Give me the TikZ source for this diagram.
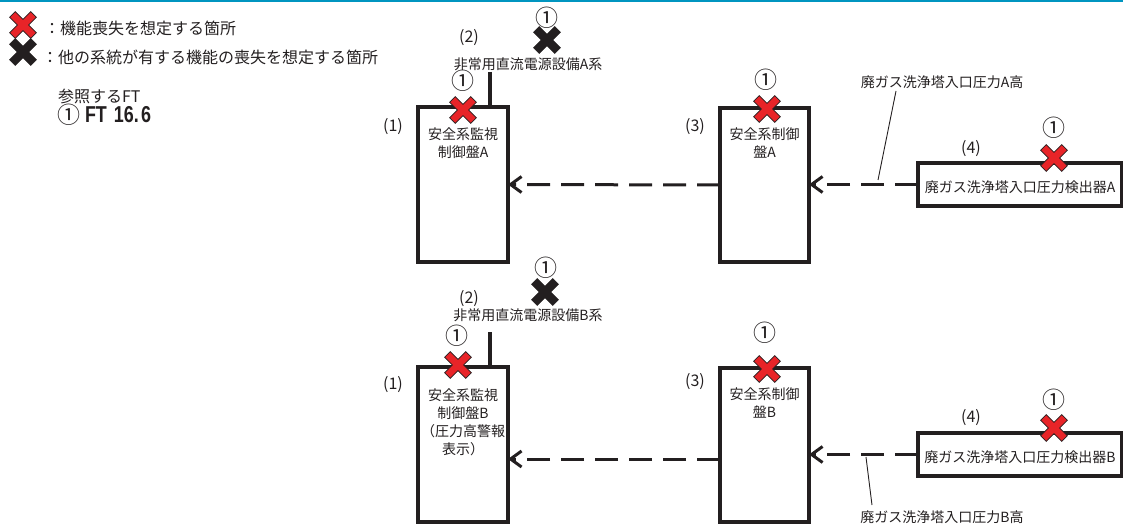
\documentclass[tikz,border=0pt]{standalone}
\usepackage{fontspec}
\setmainfont{Noto Sans CJK JP}
\newfontfamily\latinb{Liberation Sans}
\usetikzlibrary{arrows.meta}
\definecolor{xred}{RGB}{232,36,40}
\definecolor{topline}{RGB}{0,149,192}
\definecolor{ink}{RGB}{35,31,32}
\tikzset{
  xmark/.pic={
    \begin{scope}[rotate=45]
      \path[pic actions] (-4,15) -- (4,15) -- (4,4) -- (15,4) -- (15,-4) -- (4,-4) -- (4,-15) -- (-4,-15) -- (-4,-4) -- (-15,-4) -- (-15,4) -- (-4,4) -- cycle;
    \end{scope}
  },
  redx/.style={fill=xred, draw=ink, line width=0.7pt},
  blackx/.style={fill=ink, draw=ink, line width=0.7pt},
}
\begin{document}
\begin{tikzpicture}[x=1pt,y=-1pt,
  every node/.style={inner sep=0pt, outer sep=0pt, text=ink},
  box/.style={draw=ink, line width=3.2pt, rectangle, inner sep=0pt, outer sep=0pt},
  txt/.style={font=\fontsize{14}{18}\selectfont, align=center},
  leg/.style={font=\fontsize{16}{18}\selectfont, anchor=west},
  lbl/.style={font=\fontsize{16}{18}\selectfont},
  circ/.style={font=\fontsize{23}{23}\selectfont},
  sig/.style={draw=ink, line width=3pt, dash pattern=on 23pt off 11pt, -{Straight Barb[length=11pt,width=16pt]}},
  power/.style={draw=ink, line width=3.4pt},
  leader/.style={draw=ink, line width=0.9pt},
]
\useasboundingbox (0,0) rectangle (1123,524);
% top rule
\coordinate (tl) at (0,0.8);
\coordinate (tr) at (1123,0.8);
\draw[topline, line width=1.6pt] (tl) -- (tr);

% legend
\pic[redx] (legx1) at (23,25) {xmark};
\pic[blackx] (legx2) at (23,52) {xmark};
\node[leg] (leg1) at (44,28) {：機能喪失を想定する箇所};
\node[leg] (leg2) at (42,57) {：他の系統が有する機能の喪失を想定する箇所};
\node[leg] (ref1) at (58,96) {参照するFT};
\node[circ, anchor=west] (ref2) at (57,115) {①};
\node[anchor=west, font=\latinb\bfseries\fontsize{23}{23}\selectfont, xscale=0.78, transform shape] (ref3) at (85,115) {FT\kern9pt 16.\kern3pt 6};

% ===== A train =====
\node[box, minimum width=90pt, minimum height=155pt] (A1) at (463,184.5) {};
\node[txt] (A1t) at (463,143.5) {安全系監視\\制御盤A};
\node[box, minimum width=89pt, minimum height=154pt] (A3) at (764.5,185) {};
\node[txt] (A3t) at (764.5,143) {安全系制御\\盤A};
\node[box, minimum width=204pt, minimum height=43pt] (A4) at (1020,184.5) {};
\node[txt] (A4t) at (1020,187) {廃ガス洗浄塔入口圧力検出器A};

\node[lbl] (A1n) at (393,127) {(1)};
\node[lbl] (A2n) at (469,38) {(2)};
\node[lbl] (A3n) at (695,127) {(3)};
\node[lbl] (A4n) at (971,149) {(4)};

\node[txt] (A2t) at (528,64) {非常用直流電源設備A系};
\coordinate (pA) at (490,72);
\draw[power] (pA) -- (pA |- A1.north);

\pic[blackx] (A2x) at (547,40) {xmark};
\node[circ] (A2c) at (547,18) {①};
\pic[redx] (A1x) at (463,110) {xmark};
\node[circ] (A1c) at (463,81) {①};
\pic[redx] (A3x) at (767,109) {xmark};
\node[circ] (A3c) at (766,80) {①};
\pic[redx] (A4x) at (1054,158) {xmark};
\node[circ] (A4c) at (1054,128) {①};

\draw[sig] (A3.west) -- (A1.east);
\draw[sig] (A4.west) -- (A3.east |- A4.west);

\node[txt] (hA) at (942,82) {廃ガス洗浄塔入口圧力A高};
\coordinate (hAs) at (896,91);
\coordinate (hAe) at (878,180);
\draw[leader] (hAs) -- (hAe);

% ===== B train =====
\node[box, minimum width=90pt, minimum height=155pt] (B1) at (463,444.5) {};
\node[txt] (B1t) at (463,422.5) {安全系監視\\制御盤B\\（圧力高警報\\表示）};
\node[box, minimum width=89pt, minimum height=154pt] (B3) at (764.5,445) {};
\node[txt] (B3t) at (764.5,403) {安全系制御\\盤B};
\node[box, minimum width=204pt, minimum height=43pt] (B4) at (1020,454.5) {};
\node[txt] (B4t) at (1020,457) {廃ガス洗浄塔入口圧力検出器B};

\node[lbl] (B1n) at (393,385) {(1)};
\node[lbl] (B2n) at (469,299) {(2)};
\node[lbl] (B3n) at (695,382) {(3)};
\node[lbl] (B4n) at (971,418) {(4)};

\node[txt] (B2t) at (528,315) {非常用直流電源設備B系};
\coordinate (pB) at (490,332);
\draw[power] (pB) -- (pB |- B1.north);

\pic[blackx] (B2x) at (545,292) {xmark};
\node[circ] (B2c) at (546,268) {①};
\pic[redx] (B1x) at (458,365) {xmark};
\node[circ] (B1c) at (457,336) {①};
\pic[redx] (B3x) at (767,369) {xmark};
\node[circ] (B3c) at (765,333) {①};
\pic[redx] (B4x) at (1054,428) {xmark};
\node[circ] (B4c) at (1054,400) {①};

\coordinate (yB) at (0,459);
\draw[sig] (B3.west |- yB) -- (B1.east |- yB);
\draw[sig] (B4.west) -- (B3.east |- B4.west);

\node[txt] (hB) at (942,517) {廃ガス洗浄塔入口圧力B高};
\coordinate (hBs) at (866,457);
\coordinate (hBe) at (872,505);
\draw[leader] (hBs) -- (hBe);
\end{tikzpicture}
\end{document}
